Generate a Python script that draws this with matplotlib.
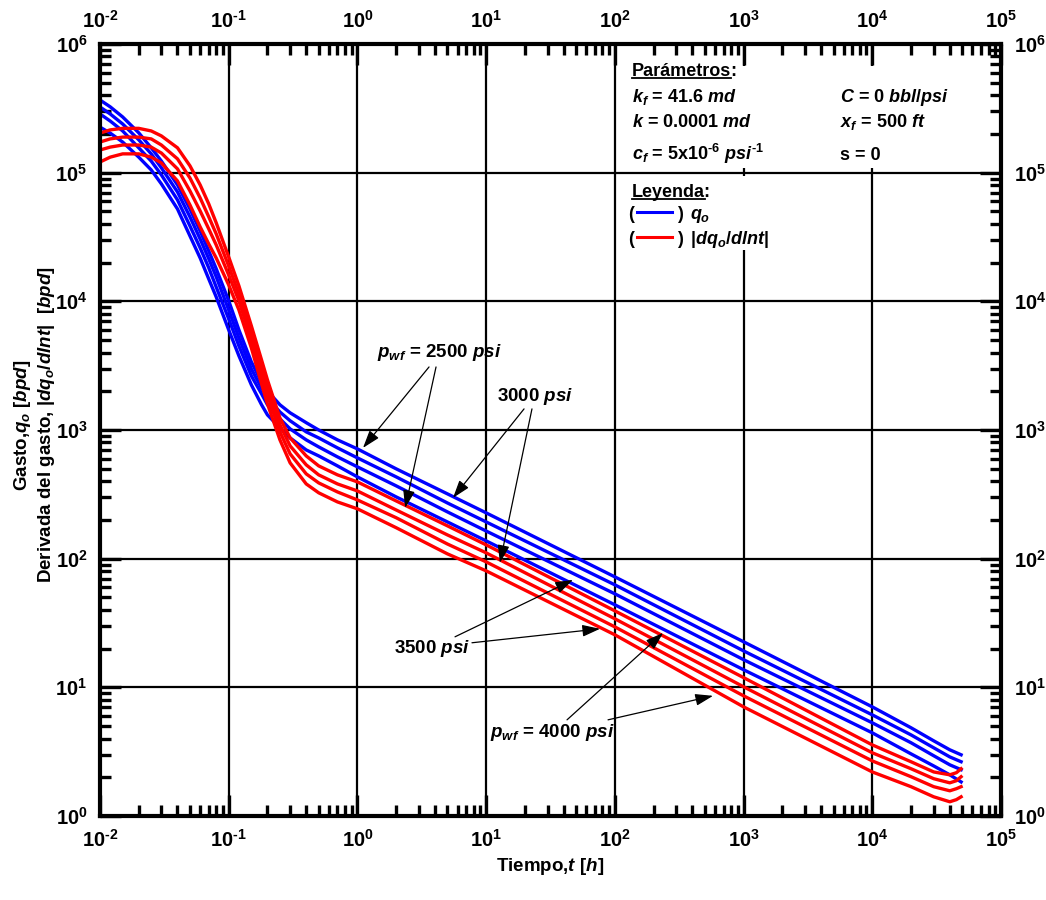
import numpy as np
import matplotlib.pyplot as plt
from matplotlib.patches import Rectangle
from matplotlib.lines import Line2D
from matplotlib.ticker import LogLocator, NullFormatter

# rate (q_o) and rate-derivative (|dq_o/dlnt|) curves for four bottomhole
# pressures, values
t_blue = [0.01, 0.012, 0.015, 0.02, 0.025, 0.03, 0.04, 0.05, 0.06, 0.07, 0.08,
          0.1, 0.12, 0.15, 0.18, 0.2, 0.25, 0.3, 0.4, 0.5, 0.7, 1, 2, 5, 10,
          100, 1000, 1e4, 2e4, 3e4, 4e4, 4.9e4]
t_red = [0.01, 0.012, 0.015, 0.02, 0.025, 0.03, 0.04, 0.05, 0.06, 0.07, 0.08,
         0.1, 0.12, 0.15, 0.18, 0.2, 0.25, 0.3, 0.4, 0.5, 0.7, 1, 2, 5, 10,
         100, 1000, 1e4, 2e4, 3e4, 4e4, 4.5e4, 4.9e4]

pwf = [2500, 3000, 3500, 4000]

q_2500 = [367000, 325000, 271000, 204000, 156000, 123000, 80300, 52200, 35200,
          24600, 17900, 10100, 6000, 3380, 2360, 2010, 1570, 1360, 1140, 1000,
          838, 713, 499, 319, 227, 72.2, 22.6, 7.05, 4.85, 3.84, 3.27, 2.99]
q_3000 = [324000, 286000, 239000, 180000, 140000, 109000, 70800, 45300, 30500,
          21400, 15500, 8570, 5200, 2980, 2120, 1780, 1380, 1180, 967, 868,
          726, 607, 432, 271, 193, 62.6, 19.2, 6.11, 4.27, 3.39, 2.88, 2.64]
q_3500 = [286000, 252000, 211000, 156000, 123000, 96000, 61400, 38500, 26000,
          18200, 12900, 7300, 4500, 2630, 1910, 1570, 1220, 1020, 838, 739,
          618, 517, 368, 231, 164, 53.3, 16.4, 5.30, 3.71, 2.94, 2.50, 2.29]
q_4000 = [226000, 203000, 173000, 132000, 105000, 81700, 52200, 32200, 21700,
          14900, 10800, 6000, 3770, 2240, 1570, 1310, 1040, 868, 700, 629,
          526, 432, 302, 193, 137.5, 43.8, 13.7, 4.43, 3.04, 2.45, 2.09, 1.84]

dq_2500 = [203000, 215000, 221000, 221000, 211000, 193000, 156000, 113000,
           80300, 57100, 40700, 22100, 13200, 6440, 3500, 2450, 1240, 868, 629,
           526, 448, 395, 281, 180, 128, 39.3, 11.9, 3.57, 2.64, 2.20, 2.09,
           2.17, 2.33]
dq_3000 = [173000, 183000, 189000, 189000, 183000, 164000, 128000, 90900,
           63600, 45300, 33400, 18800, 11400, 5680, 3040, 2120, 1100, 752, 536,
           448, 381, 336, 239, 153, 111, 34.1, 10.1, 3.10, 2.33, 1.95, 1.81,
           1.88, 2.02]
dq_3500 = [150000, 158000, 164000, 164000, 158000, 142000, 107000, 72100,
           50400, 36500, 27400, 16000, 10100, 5010, 2680, 1875, 967, 652, 456,
           388, 330, 286, 208, 130, 94.4, 29.5, 8.59, 2.68, 2.02, 1.69, 1.57,
           1.63, 1.69]
dq_4000 = [121000, 132000, 140000, 140000, 132000, 119000, 86200, 56100,
           37900, 27900, 21700, 13400, 8570, 4340, 2280, 1595, 838, 555, 381,
           325, 276, 244, 174, 109, 80.4, 25.6, 7.05, 2.20, 1.69, 1.41, 1.29,
           1.34, 1.41]

HY = "\u2010"  # short hyphen used in the exponents of the original
x_ticks = [1e-2, 1e-1, 1e0, 1e1, 1e2, 1e3, 1e4, 1e5]
x_labels = ["$10^{%s2}$" % HY, "$10^{%s1}$" % HY, "$10^{0}$", "$10^{1}$",
            "$10^{2}$", "$10^{3}$", "$10^{4}$", "$10^{5}$"]
y_ticks = [1e0, 1e1, 1e2, 1e3, 1e4, 1e5, 1e6]
y_labels = ["$10^{0}$", "$10^{1}$", "$10^{2}$", "$10^{3}$", "$10^{4}$",
            "$10^{5}$", "$10^{6}$"]

plt.rcParams['font.family'] = ['Liberation Sans', 'DejaVu Sans']
plt.rcParams['font.weight'] = 'bold'
plt.rcParams['axes.labelweight'] = 'bold'
plt.rcParams['mathtext.fontset'] = 'custom'
plt.rcParams['mathtext.rm'] = 'Liberation Sans:bold'
plt.rcParams['mathtext.it'] = 'Liberation Sans:bold:italic'
plt.rcParams['mathtext.bf'] = 'Liberation Sans:bold'

W, H = 1046, 900
fig = plt.figure(figsize=(W / 100, H / 100), dpi=100)
ax = fig.add_axes([100 / W, 84 / H, 901 / W, 772 / H])
ax.set_xscale('log')
ax.set_yscale('log')
ax.set_xlim(1e-2, 1e5)
ax.set_ylim(1e0, 1e6)

ax.set_xticks(x_ticks, x_labels)
ax.set_yticks(y_ticks, y_labels)
for axis in (ax.xaxis, ax.yaxis):
    axis.set_minor_locator(LogLocator(base=10, subs=np.arange(2, 10), numticks=20))
    axis.set_minor_formatter(NullFormatter())

ax.tick_params(which='both', direction='in', top=True, right=True,
               labeltop=True, labelright=True, pad=9, labelsize=14.5)
ax.tick_params(which='major', length=15, width=2.4)
ax.tick_params(which='minor', length=8, width=2.4)
for sp in ax.spines.values():
    sp.set_linewidth(3)

ax.set_axisbelow(True)
ax.grid(True, which='major', color='k', lw=1.6)

blue = '#0000ff'
red = '#ff0000'
for q in (q_2500, q_3000, q_3500, q_4000):
    ax.plot(t_blue, q, color=blue, lw=2.4, zorder=2, solid_joinstyle='round')
for dq in (dq_2500, dq_3000, dq_3500, dq_4000):
    ax.plot(t_red, dq, color=red, lw=2.4, zorder=2, solid_joinstyle='round')

# white boxes behind the parameter / legend text (they hide the grid)
ax.add_patch(Rectangle((0.5794, 0.8394), 0.3951, 0.1321, transform=ax.transAxes,
                       facecolor='white', edgecolor='none', zorder=1))
ax.add_patch(Rectangle((0.5794, 0.7332), 0.1975, 0.0958, transform=ax.transAxes,
                       facecolor='white', edgecolor='none', zorder=1))

fs = 13
kw = dict(transform=ax.transAxes, fontsize=fs, va='baseline', ha='left', zorder=3)
t_par = ax.text(0.5905, 0.9585, "Parámetros", **kw)
ax.text(0.5905, 0.9249, "$k_f$ = 41.6 $md$", **kw)
ax.text(0.5905, 0.8925, "$k$ = 0.0001 $md$", **kw)
ax.text(0.5905, 0.8497, "$c_f$ = 5x$10^{%s6}$ $psi^{%s1}$" % (HY, HY), **kw)
ax.text(0.8213, 0.9249, "$C$ = 0 $bbl/psi$", **kw)
ax.text(0.8213, 0.8925, "$x_f$ = 500 $ft$", **kw)
ax.text(0.8213, 0.8497, "s = 0", **kw)
t_ley = ax.text(0.5905, 0.8018, "Leyenda", **kw)

ax.text(0.5860, 0.7733, "(", **kw)
ax.text(0.6404, 0.7733, ")", **kw)
ax.text(0.6548, 0.7733, "$q_o$", **kw)
ax.text(0.5860, 0.7409, "(", **kw)
ax.text(0.6404, 0.7409, ")", **kw)
ax.text(0.6548, 0.7409, "$|dq_o/dlnt|$", **kw)
ax.add_line(Line2D([0.5965, 0.6348], [0.7818, 0.7818], transform=ax.transAxes,
                   color=blue, lw=2.2, zorder=3))
ax.add_line(Line2D([0.5965, 0.6348], [0.7494, 0.7494], transform=ax.transAxes,
                   color=red, lw=2.2, zorder=3))

# underline the two headings and add the colon after them
fig.canvas.draw()
inv = ax.transAxes.inverted()
for txt, y_ul in ((t_par, 0.9560), (t_ley, 0.7992)):
    bb = txt.get_window_extent()
    x0, _ = inv.transform((bb.x0, bb.y0))
    x1, _ = inv.transform((bb.x1, bb.y0))
    ax.add_line(Line2D([x0, x1], [y_ul, y_ul], transform=ax.transAxes,
                       color='k', lw=1.3, zorder=3))
    ax.text(x1 - 0.0015, txt.get_position()[1], ":", **kw)

# pressure annotations
afs = 13.5
arrow = dict(arrowstyle='-|>,head_length=0.9,head_width=0.3', mutation_scale=12,
             color='k', lw=0.9, shrinkA=0, shrinkB=0)
notes = [
    ("$p_{wf}$ = 2500 $psi$", (4.3, 3970), [((3.60, 3090), (1.105, 726)),
                                           ((4.08, 3090), (2.35, 248))]),
    ("3000 $psi$", (24.0, 1807), [((19.7, 1459), (5.53, 297)),
                                  ((22.7, 1459), (12.8, 92.8))]),
    ("3500 $psi$", (3.80, 19.9), [((5.73, 24.7), (47.3, 68.4)),
                                  ((7.76, 22.2), (76.7, 28.5))]),
    ("$p_{wf}$ = 4000 $psi$", (32.5, 4.43), [((42.5, 5.59), (237, 26.5)),
                                            ((88.5, 5.59), (579, 8.59))]),
]
for label, pos, arrows in notes:
    ax.text(pos[0], pos[1], label, fontsize=afs, ha='center', va='center', zorder=4)
    for tail, tip in arrows:
        ax.annotate("", xy=tip, xytext=tail, arrowprops=arrow, zorder=4)

ax.set_xlabel("Tiempo,$t$ [$h$]", fontsize=13.5, fontweight='bold', labelpad=4)
fig.text(35 / W, 1 - 425 / H,
         "Gasto,$q_o$ [$bpd$]\nDerivada del gasto, $|dq_o/dlnt|$  [$bpd$]",
         rotation=90, ha='center', va='center', multialignment='center',
         fontsize=13.5, fontweight='bold')

fig.savefig("out.png", dpi=100)
